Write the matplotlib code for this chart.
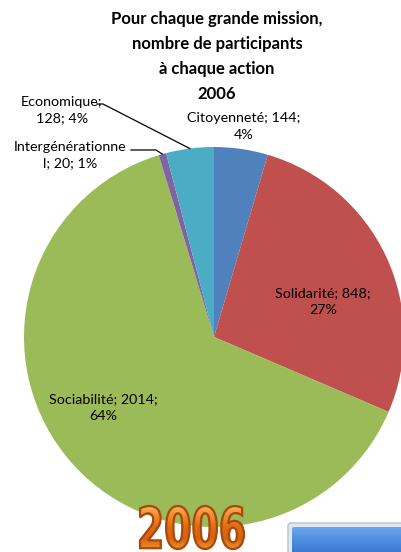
import numpy as np
import matplotlib
matplotlib.use("Agg")
import matplotlib.pyplot as plt
from matplotlib.textpath import TextPath
from matplotlib.font_manager import FontProperties
from matplotlib.patches import PathPatch, FancyBboxPatch
from matplotlib.colors import LinearSegmentedColormap
import matplotlib.transforms as mtransforms

# --- data -------------------------------------------------------------
missions = ["Citoyenneté", "Solidarité", "Sociabilité", "Intergénérationnel", "Economique"]
participants = [144, 848, 2014, 20, 128]
percent_labels = ["4%", "27%", "64%", "1%", "4%"]
colors = ["#4F81BD", "#C0504D", "#9BBB59", "#8064A2", "#4BACC6"]
title_lines = ["Pour chaque grande mission,", "nombre de participants", "à chaque action", "2006"]
banner_text = "2006"

W, H = 402, 552
fig = plt.figure(figsize=(W / 100, H / 100), dpi=100)
fig.patch.set_facecolor("white")

FONT = "Lato"

# pie axes: centre (214, 337) px, radius 190 px
cx, cy, r = 214, 337, 190
ax = fig.add_axes([(cx - r) / W, (H - cy - r) / H, 2 * r / W, 2 * r / H])
wedges, _ = ax.pie(participants, colors=colors, startangle=90, counterclock=False,
                   wedgeprops=dict(linewidth=0))
ax.set_xlim(-1, 1)
ax.set_ylim(-1, 1)
ax.set_aspect("equal")
ax.axis("off")

def px2d(px, py):
    return ((px - cx) / r, (cy - py) / r)

def label(text_lines, px, py):
    x, y = px2d(px, py)
    ax.text(x, y, "\n".join(text_lines), ha="center", va="center",
            fontsize=10.3, family=FONT, color="black", linespacing=1.5,
            clip_on=False)

label([f"{missions[0]}; {participants[0]};", percent_labels[0]], 244, 126)
label([f"{missions[1]}; {participants[1]};", percent_labels[1]], 323, 302)
label([f"{missions[2]}; {participants[2]};", percent_labels[2]], 103, 408)
label([missions[3][:-1], f"{missions[3][-1]}; {participants[3]}; {percent_labels[3]}"], 70, 155)
label([f"{missions[4]};", f"{participants[4]}; {percent_labels[4]}"], 62, 110)

def wedge_mid(w):
    a = np.deg2rad((w.theta1 + w.theta2) / 2)
    return np.cos(a), np.sin(a)

# leader lines for the two small outer wedges
ex, ey = wedge_mid(wedges[4])
p0 = px2d(97, 104); p1 = px2d(103, 104)
ax.plot([p0[0], p1[0], ex], [p0[1], p1[1], ey], color="black", lw=0.9, clip_on=False)
ix, iy = wedge_mid(wedges[3])
q0 = px2d(131, 150); q1 = px2d(156, 150)
ax.plot([q0[0], q1[0], ix], [q0[1], q1[1], iy], color="black", lw=0.9, clip_on=False)

# title
fig.text(217 / W, 1 - 56.5 / H, "\n".join(title_lines), ha="center", va="center",
         fontsize=12, fontweight="bold", family=FONT, linespacing=1.68)

# overlay in pixel coordinates for the banner and the button
ov = fig.add_axes([0, 0, 1, 1])
ov.set_xlim(0, W)
ov.set_ylim(0, H)
ov.axis("off")

# big orange "2006" with gradient fill
fp = FontProperties(family=["Liberation Sans Narrow", "DejaVu Sans"], weight="bold")
tp = TextPath((0, 0), banner_text, size=58, prop=fp)
bb = tp.get_extents()
sx = 104 / bb.width
sy = 43 / bb.height
trans = mtransforms.Affine2D().translate(-bb.x0, -bb.y0).scale(sx, sy).translate(140, H - 549)
path = trans.transform_path(tp)
outline = PathPatch(path, facecolor="none", edgecolor="#A8480C", lw=1.6, zorder=3)
ov.add_patch(outline)
grad = np.linspace(0, 1, 256).reshape(-1, 1)
cmap = LinearSegmentedColormap.from_list("orange", ["#F7B060", "#F08A2A", "#E06A10", "#D8620C", "#F09030"])
im = ov.imshow(grad[::-1], cmap=cmap, extent=(140, 244, H - 549, H - 506),
               aspect="auto", zorder=2, origin="lower")
fillp = PathPatch(path, facecolor="none", edgecolor="none", transform=ov.transData)
ov.add_patch(fillp)
im.set_clip_path(fillp)

# blue button at bottom right
btn = FancyBboxPatch((288, -6), 122, 35, boxstyle="round,pad=0,rounding_size=3",
                     facecolor="#E4E8EE", edgecolor="#B8C0CC", lw=1, zorder=2)
ov.add_patch(btn)
bgrad = np.linspace(0, 1, 256).reshape(-1, 1)
bcmap = LinearSegmentedColormap.from_list("blue", ["#3570C8", "#4A8ADB", "#6AA6EC"])
bim = ov.imshow(bgrad, cmap=bcmap, extent=(292, 410, -6, 25), aspect="auto",
                zorder=3, origin="lower")
inner = FancyBboxPatch((292, -6), 118, 31, boxstyle="round,pad=0,rounding_size=2",
                       facecolor="none", edgecolor="none", transform=ov.transData)
ov.add_patch(inner)
bim.set_clip_path(inner)
ov.set_xlim(0, W)
ov.set_ylim(0, H)

fig.savefig("out.png", dpi=100)
